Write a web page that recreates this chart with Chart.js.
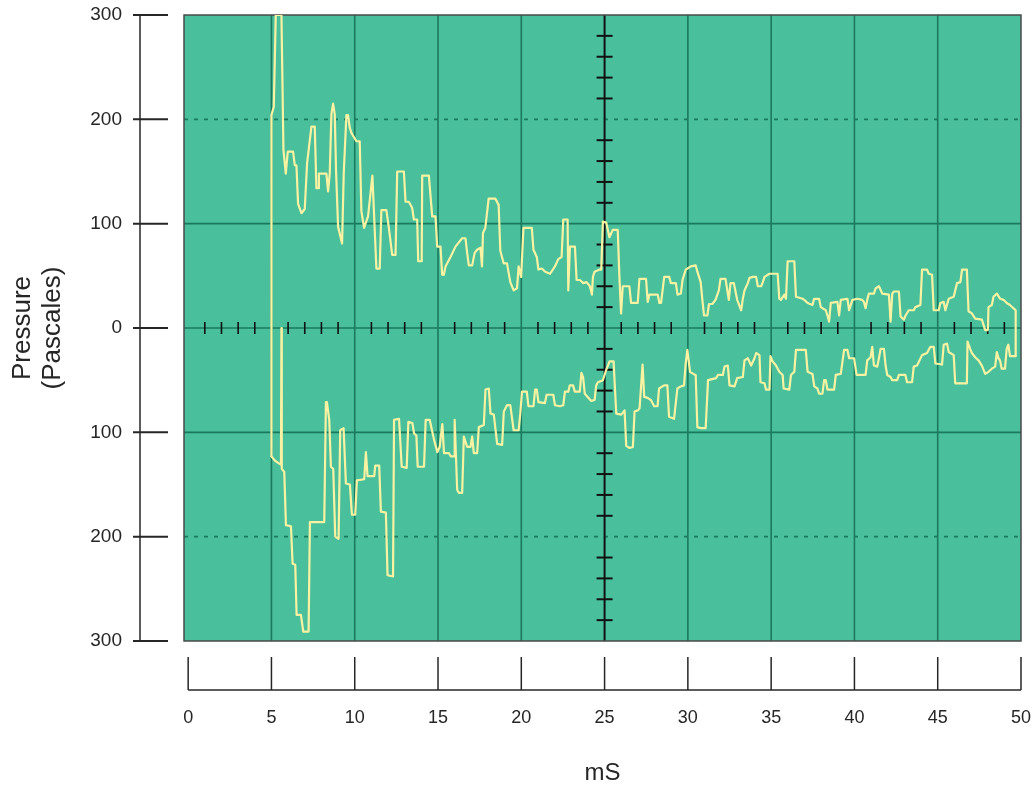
<!DOCTYPE html>
<html>
<head>
<meta charset="utf-8">
<title>Pressure trace</title>
<script src="https://cdn.jsdelivr.net/npm/chart.js@4.4.1/dist/chart.umd.min.js"></script>
<style>
    html, body { margin: 0; padding: 0; background: #ffffff; }
    #wrap { width: 1034px; height: 785px; position: relative; }
</style>
</head>
<body>
<div id="wrap"><canvas id="pressureChart"></canvas></div>
<script>
// Oscilloscope pressure trace - positive and negative envelopes

// positive envelope (mS / Pascales)
const upperTimes = [5.0, 5.0, 5.14, 5.26, 5.6, 5.72, 5.86, 5.98, 6.3, 6.4, 6.5, 6.6, 6.8, 7.0, 7.14, 7.4, 7.6, 7.7, 7.8, 7.85,
    8.3, 8.4, 8.5, 8.6, 8.7, 8.8, 8.88, 9.0, 9.24, 9.34, 9.5, 9.6, 9.7, 9.8, 10.1, 10.3, 10.4, 10.5, 10.56, 10.8,
    11.06, 11.3, 11.5, 11.6, 11.9, 12.05, 12.25, 12.45, 12.55, 12.95, 13.05, 13.25, 13.45, 13.55, 13.75, 13.81, 14.02, 14.05, 14.45, 14.65,
    14.85, 14.95, 15.15, 15.25, 15.35, 15.45, 15.75, 16.05, 16.45, 16.65, 16.75, 16.85, 17.05, 17.2, 17.35, 17.55, 17.64, 17.7, 17.84, 18.04,
    18.44, 18.64, 18.74, 18.94, 19.14, 19.34, 19.54, 19.74, 19.84, 19.99, 20.13, 20.63, 20.73, 20.93, 21.03, 21.23, 21.43, 21.73, 22.02, 22.22,
    22.42, 22.52, 22.78, 22.82, 22.92, 23.22, 23.32, 23.52, 23.72, 23.92, 24.12, 24.24, 24.3, 24.4, 24.7, 24.8, 24.9, 25.1, 25.29, 25.49,
    25.79, 25.89, 25.99, 26.09, 26.49, 26.59, 26.99, 27.09, 27.49, 27.59, 27.69, 28.19, 28.29, 28.39, 28.58, 28.88, 28.98, 29.28, 29.38, 29.58,
    29.68, 29.87, 30.17, 30.47, 30.57, 30.77, 30.87, 30.97, 31.17, 31.27, 31.47, 31.66, 31.86, 31.96, 32.26, 32.46, 32.56, 32.76, 32.96, 33.2,
    33.3, 33.4, 33.6, 33.7, 33.9, 34.1, 34.2, 34.4, 34.5, 34.6, 34.8, 34.9, 35.39, 35.49, 35.59, 35.79, 35.89, 35.99, 36.39, 36.49,
    36.89, 36.99, 37.19, 37.48, 37.58, 37.88, 37.98, 38.28, 38.38, 38.48, 38.58, 38.98, 39.08, 39.18, 39.58, 39.68, 39.88, 40.18, 40.47, 40.57,
    40.67, 40.77, 40.87, 41.17, 41.27, 41.47, 41.67, 42.07, 42.17, 42.27, 42.37, 42.67, 42.77, 42.97, 43.07, 43.26, 43.56, 43.66, 43.96, 44.06,
    44.36, 44.46, 44.66, 44.76, 45.06, 45.16, 45.36, 45.46, 45.66, 45.96, 46.16, 46.36, 46.46, 46.75, 46.85, 47.05, 47.25, 47.65, 47.85, 48.01,
    48.05, 48.25, 48.35, 48.55, 48.75, 48.95, 49.14, 49.34, 49.54, 49.68, 49.68];
const upperPressure = [-123, 204, 212, 300, 300, 171, 148, 169, 169, 156, 156, 119, 110, 114, 158, 193, 193, 134, 134, 148,
    148, 131, 148, 205, 215, 205, 150, 97, 81, 148, 204, 204, 192, 187, 179, 179, 112, 102, 96, 107,
    146, 57, 57, 113, 113, 96, 70, 70, 150, 150, 121, 121, 115, 104, 104, 64, 64, 146, 146, 107,
    107, 78, 78, 51, 51, 59, 68, 78, 86, 86, 72, 60, 60, 72, 75, 77, 59, 91, 96, 124,
    124, 118, 74, 62, 62, 44, 36, 38, 59, 49, 96, 96, 75, 68, 56, 57, 54, 52, 59, 66,
    68, 104, 104, 36, 78, 78, 46, 46, 43, 44, 40, 32, 49, 54, 56, 56, 102, 101, 87, 94,
    94, 49, 14, 40, 40, 24, 24, 47, 47, 25, 32, 32, 24, 24, 49, 49, 43, 43, 32, 33,
    46, 56, 59, 60, 54, 44, 27, 12, 12, 23, 23, 27, 36, 47, 47, 27, 43, 43, 27, 17,
    28, 36, 43, 48, 49, 49, 40, 40, 44, 49, 51, 52, 52, 28, 27, 32, 28, 64, 64, 30,
    28, 27, 24, 22, 28, 28, 20, 17, 12, 6, 24, 25, 12, 27, 28, 17, 27, 28, 27, 25,
    19, 27, 33, 33, 38, 40, 33, 32, 6, 33, 35, 35, 11, 8, 12, 17, 17, 20, 22, 56,
    56, 52, 51, 17, 17, 24, 25, 17, 28, 30, 43, 44, 56, 56, 16, 14, 9, 8, -2, -2,
    20, 22, 30, 33, 28, 27, 24, 22, 19, 17, -27];

// negative envelope
const lowerTimes = [5.0, 5.2, 5.47, 5.57, 5.6, 5.62, 5.77, 5.87, 6.17, 6.27, 6.43, 6.51, 6.77, 6.91, 7.23, 7.31, 8.17, 8.27, 8.33, 8.47,
    8.57, 8.71, 8.83, 9.03, 9.13, 9.33, 9.47, 9.71, 9.83, 10.03, 10.13, 10.57, 10.67, 10.77, 11.17, 11.23, 11.47, 11.57, 11.87, 11.97,
    12.3, 12.36, 12.66, 12.82, 13.12, 13.22, 13.46, 13.56, 13.7, 13.78, 14.16, 14.26, 14.5, 14.76, 14.96, 15.1, 15.26, 15.36, 15.66, 15.76,
    15.96, 16.0, 16.15, 16.25, 16.45, 16.55, 16.75, 16.95, 17.05, 17.15, 17.35, 17.45, 17.75, 17.85, 18.05, 18.15, 18.35, 18.55, 18.85, 18.95,
    19.14, 19.34, 19.54, 19.84, 19.94, 20.04, 20.33, 20.43, 20.73, 20.83, 20.93, 21.03, 21.42, 21.52, 21.92, 22.02, 22.32, 22.52, 22.62, 22.82,
    22.91, 23.11, 23.21, 23.51, 23.61, 23.71, 23.81, 24.2, 24.4, 24.5, 24.6, 24.9, 25.1, 25.3, 25.54, 25.7, 26.0, 26.2, 26.3, 26.5,
    26.7, 26.8, 27.0, 27.1, 27.28, 27.38, 27.58, 27.78, 27.98, 28.18, 28.27, 28.57, 28.77, 28.87, 29.17, 29.37, 29.57, 29.77, 29.87, 29.97,
    30.13, 30.33, 30.47, 30.57, 30.77, 31.07, 31.21, 31.7, 31.8, 32.1, 32.2, 32.4, 32.5, 32.8, 32.96, 33.3, 33.4, 33.6, 33.8, 34.0,
    34.1, 34.3, 34.36, 34.6, 34.69, 34.9, 34.96, 35.09, 35.29, 35.49, 35.69, 35.75, 36.09, 36.19, 36.39, 36.49, 37.08, 37.19, 37.48, 37.59,
    37.78, 37.88, 38.08, 38.18, 38.28, 38.38, 38.78, 38.88, 39.18, 39.38, 39.58, 39.68, 39.98, 40.13, 40.47, 40.67, 40.77, 40.97, 41.07, 41.17,
    41.37, 41.47, 41.57, 41.77, 41.87, 41.97, 42.17, 42.27, 42.57, 42.67, 43.06, 43.16, 43.46, 43.56, 43.76, 44.06, 44.36, 44.56, 44.76, 44.86,
    45.26, 45.36, 45.56, 45.66, 45.96, 46.05, 46.75, 46.79, 46.95, 47.05, 47.25, 47.45, 47.65, 47.85, 48.05, 48.25, 48.45, 48.55, 48.65, 48.74,
    48.84, 49.04, 49.14, 49.24, 49.34, 49.54, 49.66];
const lowerPressure = [-123, -127, -130, -131, 0, -135, -138, -189, -190, -226, -227, -275, -275, -291, -291, -186, -186, -71, -71, -88,
    -133, -135, -200, -202, -98, -96, -149, -150, -179, -179, -146, -145, -119, -142, -142, -132, -132, -176, -177, -237,
    -238, -88, -87, -133, -134, -90, -91, -101, -103, -133, -133, -88, -88, -107, -119, -114, -92, -120, -120, -123,
    -123, -88, -155, -158, -158, -104, -114, -114, -104, -120, -120, -95, -93, -59, -58, -82, -83, -111, -112, -80,
    -74, -74, -98, -98, -82, -61, -61, -75, -75, -59, -59, -71, -72, -64, -64, -74, -75, -74, -61, -61,
    -55, -55, -61, -61, -43, -47, -63, -70, -69, -55, -52, -50, -40, -32, -32, -82, -83, -79, -113, -115,
    -114, -80, -79, -77, -35, -66, -67, -69, -75, -75, -58, -55, -55, -85, -87, -58, -56, -55, -34, -21,
    -42, -44, -45, -95, -96, -96, -50, -48, -45, -45, -37, -36, -55, -56, -48, -47, -31, -29, -36, -29,
    -24, -26, -52, -53, -59, -59, -27, -32, -36, -42, -45, -58, -59, -45, -42, -21, -21, -42, -44, -56,
    -58, -63, -63, -50, -50, -59, -59, -45, -44, -21, -21, -29, -29, -45, -45, -45, -31, -28, -18, -36,
    -37, -29, -20, -20, -36, -45, -47, -50, -50, -45, -45, -52, -52, -37, -36, -26, -24, -18, -18, -34,
    -35, -16, -15, -23, -26, -53, -53, -13, -20, -24, -28, -31, -36, -44, -42, -39, -37, -23, -29, -31,
    -39, -39, -20, -16, -27, -27, -27];

// axis ticks
const xTickValues = [0, 5, 10, 15, 20, 25, 30, 35, 40, 45, 50];
const xTickLabels = ['0', '5', '10', '15', '20', '25', '30', '35', '40', '45', '50'];
const yTickValues = [-300, -200, -100, 0, 100, 200, 300];
const yTickLabels = ['300', '200', '100', '0', '100', '200', '300'];

const SCREEN_GREEN = '#49bf9b';
const GRID_GREEN = '#1b7a5d';
const TRACE_YELLOW = '#f8f2a2';
const AXIS_DARK = '#262626';

function toPoints(times, values) {
    return times.map((t, i) => ({ x: t, y: values[i] }));
}

function strokeLine(ctx, x1, y1, x2, y2) {
    ctx.beginPath();
    ctx.moveTo(x1, y1);
    ctx.lineTo(x2, y2);
    ctx.stroke();
}

// green screen, graticule and centre crosshair with minor ticks
const scopeScreen = {
    id: 'scopeScreen',
    beforeDatasetsDraw(chart) {
        const { ctx, chartArea: a, scales: { x, y } } = chart;
        ctx.save();
        ctx.fillStyle = SCREEN_GREEN;
        ctx.fillRect(a.left, a.top, a.right - a.left, a.bottom - a.top);

        ctx.strokeStyle = GRID_GREEN;
        ctx.lineWidth = 1.6;
        xTickValues.forEach(v => {
            if (v === 0 || v === 25 || v === 50) return;
            const px = x.getPixelForValue(v);
            strokeLine(ctx, px, a.top, px, a.bottom);
        });
        yTickValues.forEach(v => {
            if (Math.abs(v) === 300) return;
            const py = y.getPixelForValue(v);
            ctx.setLineDash(Math.abs(v) === 200 ? [4, 6] : []);
            strokeLine(ctx, a.left, py, a.right, py);
        });
        ctx.setLineDash([]);

        // centre crosshair
        const y0 = y.getPixelForValue(0);
        const x25 = x.getPixelForValue(25);
        ctx.strokeStyle = '#111';
        ctx.lineWidth = 2;
        strokeLine(ctx, x25, a.top, x25, a.bottom);

        ctx.lineWidth = 1.6;
        for (let t = 1; t < 50; t++) {
            if (t % 5 === 0) continue;
            const px = x.getPixelForValue(t);
            strokeLine(ctx, px, y0 - 6, px, y0 + 6);
        }
        ctx.lineWidth = 2;
        for (let p = -280; p <= 280; p += 20) {
            if (p % 100 === 0) continue;
            const py = y.getPixelForValue(p);
            strokeLine(ctx, x25 - 8, py, x25 + 8, py);
        }

        ctx.strokeStyle = '#4a4a4a';
        ctx.lineWidth = 1.5;
        ctx.strokeRect(a.left, a.top, a.right - a.left, a.bottom - a.top);
        ctx.restore();
    },
    afterDraw(chart) {
        const { ctx, chartArea: a, scales: { x, y } } = chart;
        ctx.save();
        ctx.strokeStyle = AXIS_DARK;

        // detached pressure axis on the left
        const axisX = a.left - 44;
        ctx.lineWidth = 1.5;
        strokeLine(ctx, axisX, y.getPixelForValue(300), axisX, y.getPixelForValue(-300));
        ctx.lineWidth = 2;
        yTickValues.forEach(v => {
            const py = y.getPixelForValue(v);
            strokeLine(ctx, axisX - 7, py, axisX + 28, py);
        });

        // detached time axis below
        const baseY = a.bottom + 49;
        ctx.lineWidth = 1.5;
        strokeLine(ctx, x.getPixelForValue(0), baseY, x.getPixelForValue(50), baseY);
        xTickValues.forEach(v => {
            const px = x.getPixelForValue(v);
            strokeLine(ctx, px, baseY - 33, px, baseY);
        });
        ctx.restore();
    }
};

const traceStyle = {
    borderColor: TRACE_YELLOW,
    borderWidth: 2.2,
    pointRadius: 0,
    tension: 0,
    borderJoinStyle: 'round',
    borderCapStyle: 'round',
    fill: false
};

new Chart(document.getElementById('pressureChart'), {
    type: 'line',
    data: {
        datasets: [
            { label: 'Positive', data: toPoints(upperTimes, upperPressure), ...traceStyle },
            { label: 'Negative', data: toPoints(lowerTimes, lowerPressure), ...traceStyle }
        ]
    },
    plugins: [scopeScreen],
    options: {
        responsive: true,
        maintainAspectRatio: false,
        animation: false,
        layout: { padding: { top: 15, right: 13, left: 0, bottom: 0 } },
        plugins: {
            legend: { display: false },
            tooltip: { enabled: false },
            title: { display: false }
        },
        scales: {
            x: {
                type: 'linear',
                min: -0.25,
                max: 50,
                afterFit: (s) => { s.height = 144; s.paddingLeft = 0; s.paddingRight = 0; },
                afterBuildTicks: (s) => { s.ticks = xTickValues.map(v => ({ value: v })); },
                grid: { display: false, drawOnChartArea: false, drawTicks: false },
                border: { display: false },
                ticks: {
                    padding: 66,
                    maxRotation: 0,
                    autoSkip: false,
                    color: AXIS_DARK,
                    font: { family: 'Liberation Sans', size: 18 },
                    callback: (value) => xTickLabels[xTickValues.indexOf(value)]
                },
                title: {
                    display: true,
                    text: 'mS',
                    color: AXIS_DARK,
                    font: { family: 'Liberation Sans', size: 24, lineHeight: 1 },
                    padding: { top: 0, bottom: 0 }
                }
            },
            y: {
                min: -300,
                max: 300,
                afterFit: (s) => { s.width = 184; s.paddingTop = 0; s.paddingBottom = 0; },
                afterBuildTicks: (s) => { s.ticks = yTickValues.map(v => ({ value: v })); },
                grid: { display: false, drawOnChartArea: false, drawTicks: false },
                border: { display: false },
                ticks: {
                    padding: 62,
                    autoSkip: false,
                    color: AXIS_DARK,
                    font: { family: 'Liberation Sans', size: 19 },
                    callback: (value) => yTickLabels[yTickValues.indexOf(value)]
                },
                title: {
                    display: true,
                    text: ['Pressure', '(Pascales)'],
                    color: AXIS_DARK,
                    font: { family: 'Liberation Sans', size: 26, lineHeight: 1.15 },
                    padding: { top: 8, bottom: 0 }
                }
            }
        }
    }
});
</script>
</body>
</html>
